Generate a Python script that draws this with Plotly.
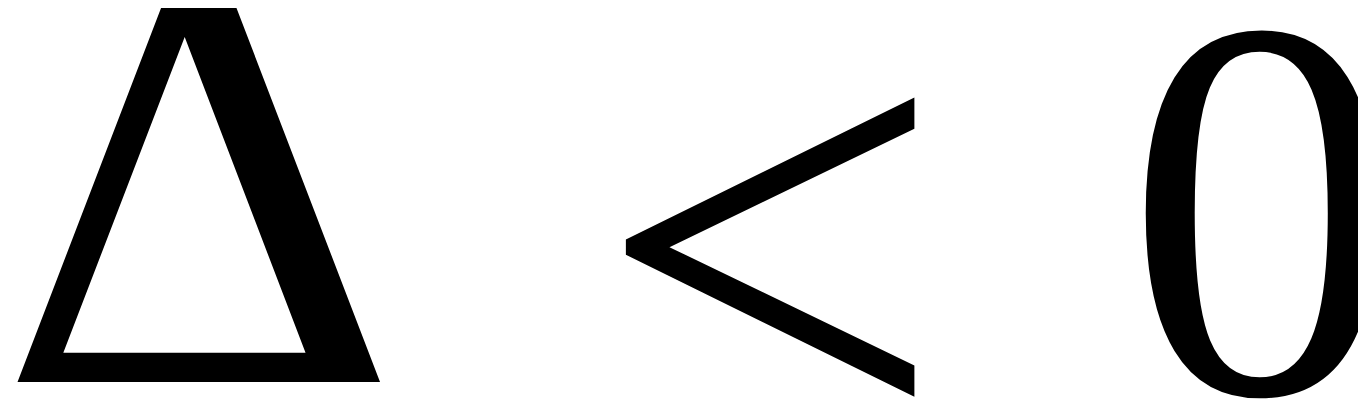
import plotly.graph_objects as go

symbols = ["Δ", "<", "0"]

x_pos = [0.1405, 0.5575, 0.918]
y_shift = [23, -35, 0]
sizes = [565, 620, 545]
families = ["DejaVu Serif", "Liberation Serif", "Liberation Serif"]

fig = go.Figure()
for s, x, ys, fs, fam in zip(symbols, x_pos, y_shift, sizes, families):
    fig.add_annotation(
        text=s, x=x, y=0.5, xref="paper", yref="paper", yshift=ys,
        xanchor="center", yanchor="middle", showarrow=False,
        font=dict(family=fam, size=fs, color="black"),
    )
fig.update_layout(
    width=1366, height=402, margin=dict(l=0, r=0, t=0, b=0),
    paper_bgcolor="white", plot_bgcolor="white",
    xaxis=dict(visible=False), yaxis=dict(visible=False),
    showlegend=False,
)
fig.write_html("out.html")
